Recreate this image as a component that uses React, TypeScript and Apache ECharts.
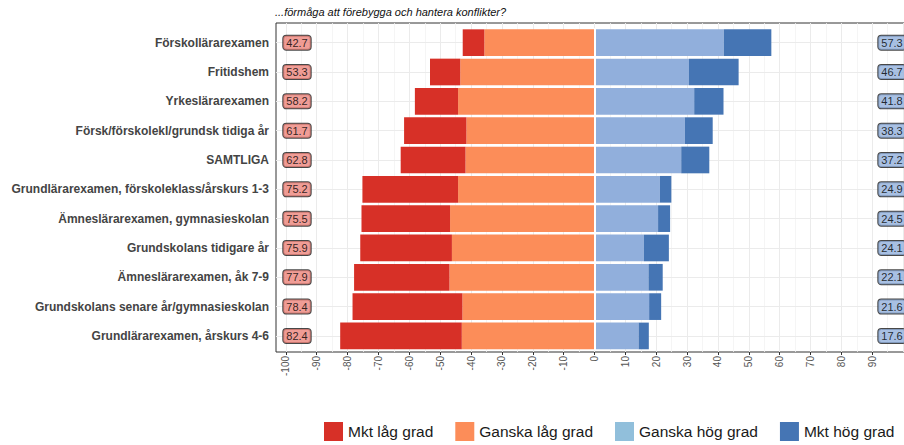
import React, { useEffect, useRef } from "react";
import * as echarts from "echarts";

const categories = [
  "Förskollärarexamen",
  "Fritidshem",
  "Yrkeslärarexamen",
  "Försk/förskolekl/grundsk tidiga år",
  "SAMTLIGA",
  "Grundlärarexamen, förskoleklass/årskurs 1-3",
  "Ämneslärarexamen, gymnasieskolan",
  "Grundskolans tidigare år",
  "Ämneslärarexamen, åk 7-9",
  "Grundskolans senare år/gymnasieskolan",
  "Grundlärarexamen, årskurs 4-6",
];

const mktLag = [7.0, 9.8, 14.0, 20.2, 21.0, 31.0, 28.7, 29.7, 30.9, 35.6, 39.4];
const ganskaLag = [35.7, 43.5, 44.2, 41.5, 41.8, 44.2, 46.8, 46.2, 47.0, 42.8, 43.0];
const ganskaHog = [41.9, 30.6, 32.3, 29.3, 28.1, 21.2, 20.6, 16.0, 17.5, 17.7, 14.3];
const mktHog = [15.4, 16.1, 9.5, 9.0, 9.1, 3.7, 3.9, 8.1, 4.6, 3.9, 3.3];

const lowTotals = [42.7, 53.3, 58.2, 61.7, 62.8, 75.2, 75.5, 75.9, 77.9, 78.4, 82.4];
const highTotals = [57.3, 46.7, 41.8, 38.3, 37.2, 24.9, 24.5, 24.1, 22.1, 21.6, 17.6];

const xTicks = [-100, -90, -80, -70, -60, -50, -40, -30, -20, -10, 0, 10, 20, 30, 40, 50, 60, 70, 80, 90];
const xMajorLines = [-100, -90, -80, -70, -60, -50, -40, -30, -20, -10, 0, 10, 20, 30, 40, 50, 60, 70, 80, 90, 100];
const xMinorLines = [-95, -85, -75, -65, -55, -45, -35, -25, -15, -5, 5, 15, 25, 35, 45, 55, 65, 75, 85, 95];

const FONT = "'Liberation Sans', Arial, sans-serif";
const X_MIN = -103.2;
const X_MAX = 103.2;
const LABEL_X = 96.4;

export default function App() {
  const ref = useRef<HTMLDivElement>(null);

  useEffect(() => {
    if (!ref.current) return;
    const chart = echarts.init(ref.current, undefined, { renderer: "svg" });

    const labelStyle = (bg: string) => ({
      show: true,
      position: "inside",
      formatter: (p: any) => Number(p.value[2]).toFixed(1),
      backgroundColor: bg,
      borderColor: "#1a1a1a",
      borderWidth: 1,
      borderRadius: 3,
      padding: [2, 3, 1, 3],
      fontSize: 11,
      color: "#000",
      fontFamily: FONT,
    });

    const option: any = {
      animation: false,
      textStyle: { fontFamily: FONT },
      title: {
        text: "...förmåga att förebygga och hantera konflikter?",
        left: 275,
        top: 6,
        padding: 0,
        textStyle: {
          fontSize: 11,
          fontStyle: "italic",
          fontWeight: "normal",
          color: "#111",
          fontFamily: FONT,
        },
      },
      legend: {
        left: 324,
        top: 422,
        padding: 0,
        itemWidth: 19,
        itemHeight: 19,
        itemGap: 22,
        icon: "rect",
        textStyle: { fontSize: 15.5, color: "#1a1a1a", fontFamily: FONT },
        data: [
          { name: "Mkt låg grad" },
          { name: "Ganska låg grad" },
          { name: "Ganska hög grad", itemStyle: { color: "#91bfdb" } },
          { name: "Mkt hög grad" },
        ],
      },
      grid: [
        {
          left: 276,
          top: 23,
          width: 637,
          height: 329,
          show: true,
          backgroundColor: "#fff",
          borderColor: "#333",
          borderWidth: 1,
          containLabel: false,
          outerBoundsMode: "none",
        },
        {
          left: 276,
          top: 28,
          width: 637,
          height: 322.6,
          containLabel: false,
          outerBoundsMode: "none",
        },
      ],
      xAxis: [
        {
          type: "value",
          gridIndex: 0,
          min: X_MIN,
          max: X_MAX,
          axisLine: { show: false },
          splitLine: { show: false },
          axisTick: {
            show: true,
            length: 3,
            customValues: xTicks,
            lineStyle: { color: "#333" },
          },
          axisLabel: {
            customValues: xTicks,
            rotate: 90,
            fontSize: 10,
            color: "#555",
            margin: 4,
            fontFamily: FONT,
          },
        },
        {
          type: "value",
          gridIndex: 1,
          min: X_MIN,
          max: X_MAX,
          show: false,
          splitLine: { show: false },
        },
      ],
      yAxis: [
        {
          type: "value",
          gridIndex: 0,
          min: 0,
          max: 1,
          show: false,
          splitLine: { show: false },
        },
        {
          type: "category",
          gridIndex: 1,
          data: categories,
          inverse: true,
          axisLine: { show: false },
          axisTick: {
            show: true,
            alignWithLabel: true,
            length: 3,
            lineStyle: { color: "#333" },
          },
          axisLabel: {
            fontSize: 12,
            fontWeight: "bold",
            color: "#444",
            margin: 7,
            fontFamily: FONT,
          },
          splitLine: { show: false },
        },
      ],
      series: [
        {
          name: "vgrid",
          type: "scatter",
          xAxisIndex: 0,
          yAxisIndex: 0,
          data: [[0, 0.5]],
          symbolSize: 0,
          silent: true,
          z: 1,
          markLine: {
            z: 1,
            silent: true,
            symbol: ["none", "none"],
            label: { show: false },
            animation: false,
            data: [
              ...xMajorLines.map((v) => ({ xAxis: v, lineStyle: { color: "#ebebeb", width: 1, type: "solid" } })),
              ...xMinorLines.map((v) => ({ xAxis: v, lineStyle: { color: "#f2f2f2", width: 0.8, type: "solid" } })),
            ],
          },
        },
        {
          name: "hgrid",
          type: "scatter",
          xAxisIndex: 1,
          yAxisIndex: 1,
          data: [[0, categories[0]]],
          symbolSize: 0,
          silent: true,
          z: 1,
          markLine: {
            z: 1,
            silent: true,
            symbol: ["none", "none"],
            label: { show: false },
            animation: false,
            lineStyle: { color: "#ebebeb", width: 1, type: "solid" },
            data: categories.map((_, i) => ({ yAxis: i })),
          },
        },
        {
          name: "Ganska låg grad",
          type: "bar",
          xAxisIndex: 1,
          yAxisIndex: 1,
          stack: "total",
          barWidth: "91%",
          itemStyle: { color: "#fc8d59" },
          data: ganskaLag.map((v) => -v),
          z: 3,
        },
        {
          name: "Mkt låg grad",
          type: "bar",
          xAxisIndex: 1,
          yAxisIndex: 1,
          stack: "total",
          barWidth: "91%",
          itemStyle: { color: "#d73027" },
          data: mktLag.map((v) => -v),
          z: 3,
        },
        {
          name: "Ganska hög grad",
          type: "bar",
          xAxisIndex: 1,
          yAxisIndex: 1,
          stack: "total",
          barWidth: "91%",
          itemStyle: { color: "#91afdc" },
          data: ganskaHog,
          z: 3,
        },
        {
          name: "Mkt hög grad",
          type: "bar",
          xAxisIndex: 1,
          yAxisIndex: 1,
          stack: "total",
          barWidth: "91%",
          itemStyle: { color: "#4575b4" },
          data: mktHog,
          z: 3,
        },
        {
          name: "zeroSep",
          type: "scatter",
          xAxisIndex: 1,
          yAxisIndex: 1,
          data: [[0, categories[0]]],
          symbolSize: 0,
          silent: true,
          z: 5,
          markLine: {
            z: 5,
            silent: true,
            symbol: ["none", "none"],
            label: { show: false },
            animation: false,
            lineStyle: { color: "#fff", width: 2, type: "solid" },
            data: [{ xAxis: 0 }],
          },
        },
        {
          name: "lowLabels",
          type: "scatter",
          xAxisIndex: 1,
          yAxisIndex: 1,
          symbolSize: 0,
          itemStyle: { color: "transparent" },
          silent: true,
          z: 6,
          data: categories.map((c, i) => [-LABEL_X, c, lowTotals[i]]),
          label: labelStyle("#ec847c"),
        },
        {
          name: "highLabels",
          type: "scatter",
          xAxisIndex: 1,
          yAxisIndex: 1,
          symbolSize: 0,
          itemStyle: { color: "transparent" },
          silent: true,
          z: 6,
          data: categories.map((c, i) => [LABEL_X, c, highTotals[i]]),
          label: labelStyle("#92b0dc"),
        },
      ],
    };

    chart.setOption(option);
    return () => chart.dispose();
  }, []);

  return (
    <div
      ref={ref}
      style={{ position: "fixed", left: 0, top: 0, width: 904, height: 445, background: "#fff" }}
    />
  );
}
